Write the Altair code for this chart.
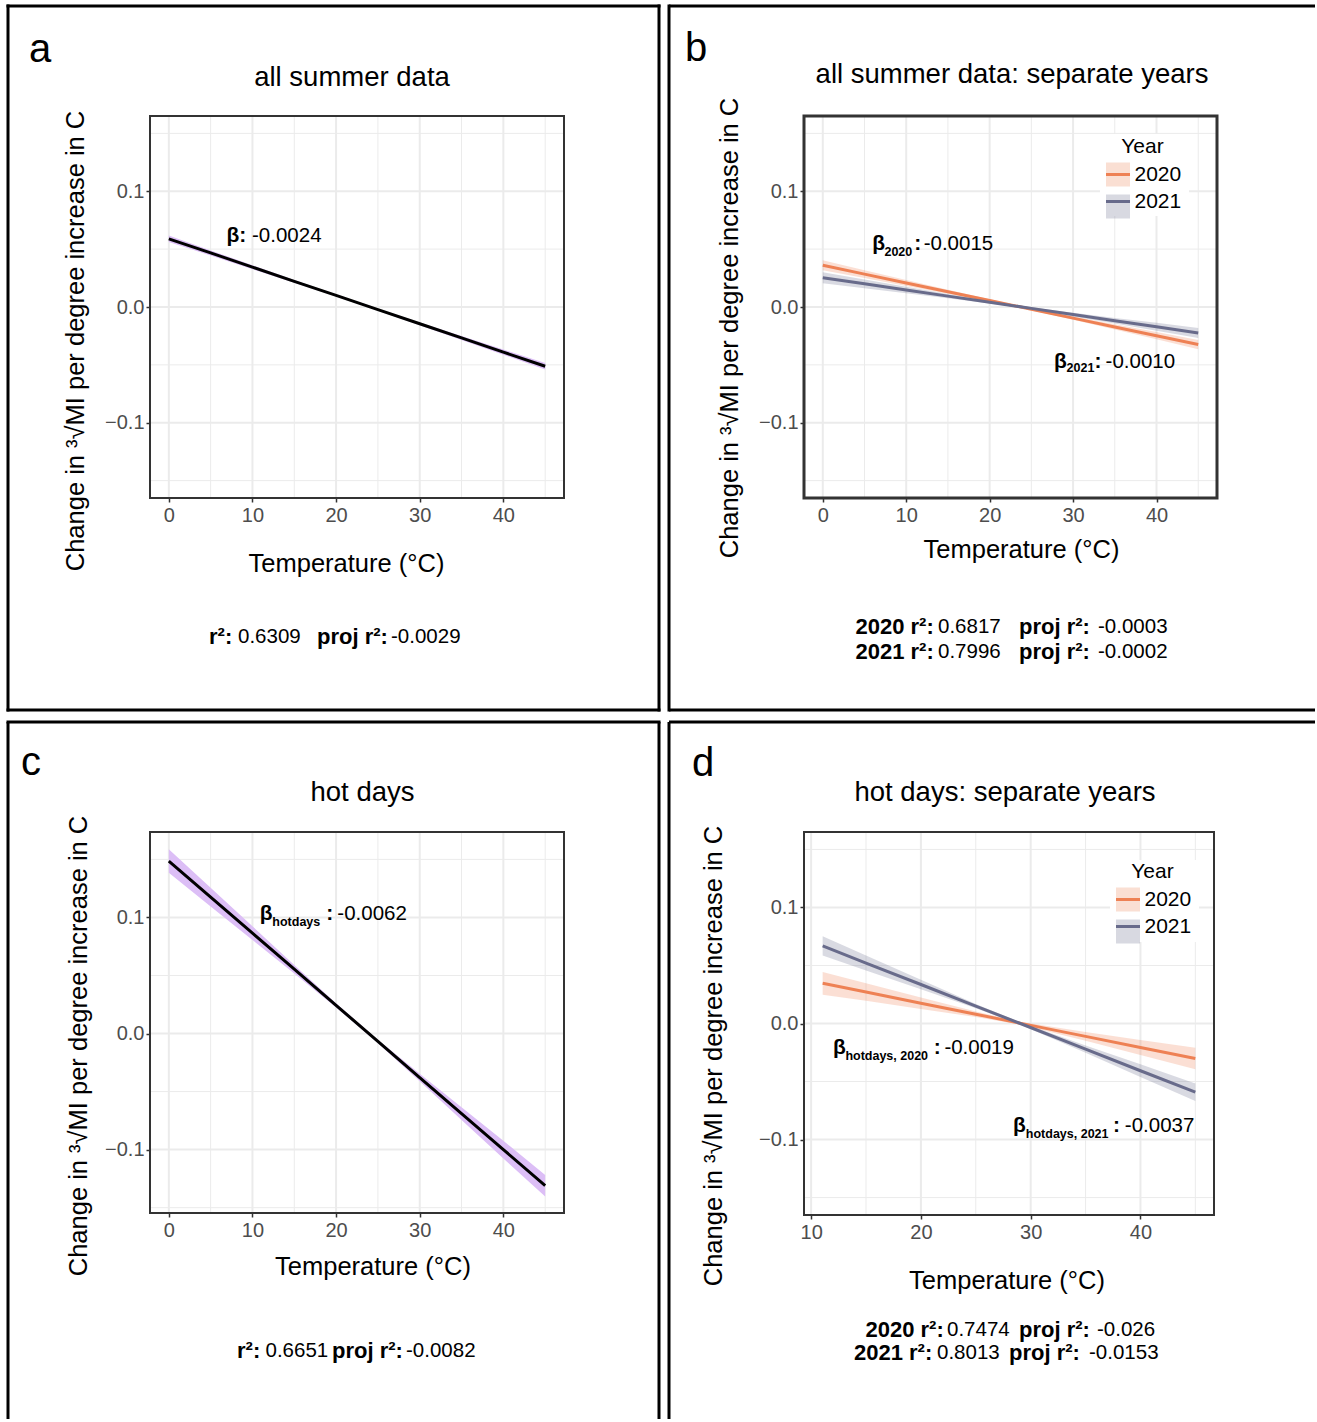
import altair as alt
import pandas as pd

FONT = "Liberation Sans"
ORANGE = "#EE8154"
SLATE = "#686B8B"
PURPLE_FILL = "#DCBEF6"
GRID = "#EBEBEB"

# ---------------- data ----------------
temp_full = [0, 5, 10, 15, 20, 25, 30, 35, 40, 45]

a_fit = [0.0589, 0.0467, 0.0344, 0.0222, 0.0100, -0.0023, -0.0145, -0.0267, -0.0390, -0.0512]
a_lo = [0.0561, 0.0445, 0.0327, 0.0210, 0.0092, -0.0031, -0.0157, -0.0284, -0.0412, -0.0540]
a_hi = [0.0617, 0.0489, 0.0361, 0.0234, 0.0108, -0.0015, -0.0133, -0.0250, -0.0368, -0.0484]

b20_fit = [0.0360, 0.0284, 0.0208, 0.0132, 0.0056, -0.0020, -0.0096, -0.0172, -0.0248, -0.0324]
b20_lo = [0.0317, 0.0250, 0.0182, 0.0115, 0.0046, -0.0028, -0.0110, -0.0194, -0.0279, -0.0364]
b20_hi = [0.0403, 0.0318, 0.0234, 0.0149, 0.0066, -0.0012, -0.0082, -0.0150, -0.0217, -0.0284]
b21_fit = [0.0253, 0.0200, 0.0147, 0.0094, 0.0041, -0.0012, -0.0065, -0.0118, -0.0171, -0.0224]
b21_lo = [0.0206, 0.0162, 0.0119, 0.0075, 0.0030, -0.0021, -0.0081, -0.0142, -0.0205, -0.0267]
b21_hi = [0.0300, 0.0238, 0.0175, 0.0113, 0.0052, -0.0003, -0.0049, -0.0094, -0.0137, -0.0181]

c_fit = [0.1486, 0.1175, 0.0865, 0.0554, 0.0243, -0.0068, -0.0379, -0.0690, -0.1000, -0.1311]
c_lo = [0.1384, 0.1095, 0.0806, 0.0517, 0.0225, -0.0083, -0.0412, -0.0744, -0.1076, -0.1404]
c_hi = [0.1588, 0.1255, 0.0924, 0.0591, 0.0261, -0.0053, -0.0346, -0.0636, -0.0924, -0.1218]

temp_hot = [11.05, 15, 20, 25, 29, 35, 40, 45]
d20_fit = [0.0346, 0.0271, 0.0175, 0.0080, 0.0003, -0.0111, -0.0207, -0.0302]
d20_lo = [0.0248, 0.0195, 0.0126, 0.0057, -0.0009, -0.0149, -0.0272, -0.0395]
d20_hi = [0.0444, 0.0347, 0.0224, 0.0103, 0.0015, -0.0073, -0.0142, -0.0209]
d21_fit = [0.0668, 0.0521, 0.0336, 0.0150, 0.0002, -0.0221, -0.0407, -0.0592]
d21_lo = [0.0585, 0.0457, 0.0295, 0.0131, -0.0008, -0.0253, -0.0462, -0.0668]
d21_hi = [0.0751, 0.0585, 0.0377, 0.0169, 0.0012, -0.0189, -0.0352, -0.0516]

years = ["2020", "2021"]

x_ticks_full = [0, 10, 20, 30, 40]
x_minor_full = [5, 15, 25, 35, 45]
x_ticks_hot = [10, 20, 30, 40]
x_minor_hot = [15, 25, 35, 45]
y_ticks = [-0.1, 0.0, 0.1]
y_minor = [-0.15, -0.05, 0.05, 0.15]

x_dom_full = [-2.25, 47.25]
x_dom_hot = [9.35, 46.7]
y_dom_fixed = [-0.165, 0.165]
y_dom_c = [-0.1546, 0.1736]

titles = ["all summer data", "all summer data: separate years", "hot days", "hot days: separate years"]
letters = ["a", "b", "c", "d"]
x_title = "Temperature (°C)"
y_title = "Change in ³√MI per degree increase in C"

a_beta = ("-0.0024",)
b_beta = ("-0.0015", "-0.0010")
c_beta = ("-0.0062",)
d_beta = ("-0.0019", "-0.0037")

a_r2 = ("0.6309", "-0.0029")
b_r2 = [("2020", "0.6817", "-0.0003"), ("2021", "0.7996", "-0.0002")]
c_r2 = ("0.6651", "-0.0082")
d_r2 = [("2020", "0.7474", "-0.026"), ("2021", "0.8013", "-0.0153")]

ONE = pd.DataFrame({"k": [0]})

TITLE_SIZE = 27.5
AXT_SIZE = 25.5
NOTE_SIZE = 20.5
NOTE_BOLD = 22
BETA_BOLD = 21


# ---------------- helpers ----------------
def text_px(origin, s, cx, cy, size, weight="normal", align="left", baseline="middle", angle=None, color="black"):
    kw = dict(text=s, font=FONT, fontSize=size, fontWeight=weight, align=align,
              baseline=baseline, color=color)
    if angle is not None:
        kw["angle"] = angle
    return alt.Chart(ONE).mark_text(**kw).encode(
        x=alt.value(cx - origin[0]), y=alt.value(cy - origin[1]))


def hline(origin, x1, x2, y, w=3, cap="butt"):
    return alt.Chart(ONE).mark_rule(color="black", strokeWidth=w, strokeCap=cap).encode(
        x=alt.value(x1 - origin[0]), x2=alt.value(x2 - origin[0]), y=alt.value(y - origin[1]))


def vline(origin, x, y1, y2, w=3, cap="butt"):
    return alt.Chart(ONE).mark_rule(color="black", strokeWidth=w, strokeCap=cap).encode(
        x=alt.value(x - origin[0]), y=alt.value(y1 - origin[1]), y2=alt.value(y2 - origin[1]))


def white_box(origin, x1, y1, x2, y2):
    return alt.Chart(ONE).mark_rect(color="white").encode(
        x=alt.value(x1 - origin[0]), x2=alt.value(x2 - origin[0]),
        y=alt.value(y1 - origin[1]), y2=alt.value(y2 - origin[1]))


def make_axes(xticks):
    xa = alt.Axis(values=xticks, format="d", grid=False, domain=False, tickSize=4, tickWidth=1.5,
                  tickColor="#333333", labelColor="#4D4D4D", labelFont=FONT, labelFontSize=20,
                  labelPadding=3, title=None)
    ya = alt.Axis(values=y_ticks, format=".1f", grid=False, domain=False, tickSize=4, tickWidth=1.5,
                  tickColor="#333333", labelColor="#4D4D4D", labelFont=FONT, labelFontSize=20,
                  labelPadding=2, title=None)
    return xa, ya


def grid_layers(xs, ys, xa, ya, xmajor, xminor):
    out = []
    for vals, w in ((xminor, 1), (xmajor, 2)):
        out.append(alt.Chart(pd.DataFrame({"v": vals})).mark_rule(color=GRID, strokeWidth=w).encode(
            x=alt.X("v:Q", scale=xs, axis=xa)))
    for vals, w in ((y_minor, 1), (y_ticks, 2)):
        out.append(alt.Chart(pd.DataFrame({"v": vals})).mark_rule(color=GRID, strokeWidth=w).encode(
            y=alt.Y("v:Q", scale=ys, axis=ya)))
    return out


def beta_label(xs, ys, xa, ya, xv, yv, sub, value, sub_dx, sub_dy, colon_dx, val_dx):
    df = pd.DataFrame({"t": [xv], "v": [yv]})
    enc = dict(x=alt.X("t:Q", scale=xs, axis=xa), y=alt.Y("v:Q", scale=ys, axis=ya))
    base = dict(font=FONT, align="left", baseline="middle", color="black")
    return [
        alt.Chart(df).mark_text(text="β", fontSize=BETA_BOLD, fontWeight="bold", **base).encode(**enc),
        alt.Chart(df).mark_text(text=sub, fontSize=12.5, fontWeight="bold", dx=sub_dx, dy=sub_dy, **base).encode(**enc),
        alt.Chart(df).mark_text(text=":", fontSize=BETA_BOLD, fontWeight="bold", dx=colon_dx, **base).encode(**enc),
        alt.Chart(df).mark_text(text=value, fontSize=NOTE_SIZE, fontWeight="normal", dx=val_dx, **base).encode(**enc),
    ]


def frame(w, h, sw=2, color="#333333"):
    return alt.Chart(ONE).mark_rect(fillOpacity=0, stroke=color, strokeWidth=sw).encode(
        x=alt.value(0), x2=alt.value(w), y=alt.value(0), y2=alt.value(h))


def legends(lx, ly):
    # the stroke legend carries the title and the labels; the fill legend only
    # draws the translucent key squares underneath the same rows
    shared = dict(orient="none", legendX=lx, direction="vertical", symbolSize=576,
                  symbolStrokeWidth=3, padding=0, labelFont=FONT,
                  labelFontSize=21, labelOffset=3)
    stroke_leg = alt.Legend(legendY=ly, title="Year", titleFont=FONT, titleFontSize=21,
                            titleFontWeight="normal", titleColor="black", titleAnchor="middle",
                            titlePadding=4, labelColor="black", symbolType="stroke", rowPadding=3,
                            symbolOpacity=1, zindex=2, **shared)
    fill_leg = alt.Legend(legendY=ly + 25, title=None, labelExpr="''", symbolType="square",
                          rowPadding=-7, symbolOpacity=0.25, symbolStrokeColor="transparent",
                          zindex=1, **shared)
    return fill_leg, stroke_leg


def r2_segments(o, py, xs_, bold1, val1, val2):
    return [
        text_px(o, bold1, xs_[0], py, NOTE_BOLD, weight="bold"),
        text_px(o, val1, xs_[1], py, NOTE_SIZE),
        text_px(o, "proj r²:", xs_[2], py, NOTE_BOLD, weight="bold"),
        text_px(o, val2, xs_[3], py, NOTE_SIZE),
    ]


# ---------------- panel geometry (plot-area origins on the canvas) ----------------
A0, A_SIZE = (150, 116), (414, 382)
B0, B_SIZE = (804, 116), (413, 382)
C0, C_SIZE = (150, 832), (414, 381)
D0, D_SIZE = (804, 832), (410, 383)


# ---------------- panel a ----------------
def panel_a():
    o = A0
    xs = alt.Scale(domain=x_dom_full, nice=False, zero=False)
    ys = alt.Scale(domain=y_dom_fixed, nice=False, zero=False)
    xa, ya = make_axes(x_ticks_full)
    df = pd.DataFrame({"temp": temp_full, "fit": a_fit, "lo": a_lo, "hi": a_hi})
    layers = [
        # invisible canvas-sized rectangle so the page starts at (0, 0)
        alt.Chart(ONE).mark_rect(opacity=0).encode(
            x=alt.value(-o[0]), x2=alt.value(1317 - o[0]), y=alt.value(-o[1]), y2=alt.value(1422 - o[1])),
    ]
    layers += grid_layers(xs, ys, xa, ya, x_ticks_full, x_minor_full)
    layers += [
        alt.Chart(df).mark_area(color=PURPLE_FILL).encode(
            x=alt.X("temp:Q", scale=xs, axis=xa), y=alt.Y("lo:Q", scale=ys, axis=ya), y2="hi:Q"),
        alt.Chart(df).mark_line(color="black", strokeWidth=3).encode(
            x=alt.X("temp:Q", scale=xs, axis=xa), y=alt.Y("fit:Q", scale=ys, axis=ya)),
    ]
    df_b = pd.DataFrame({"t": [6.9], "v": [0.061]})
    enc = dict(x=alt.X("t:Q", scale=xs, axis=xa), y=alt.Y("v:Q", scale=ys, axis=ya))
    layers += [
        alt.Chart(df_b).mark_text(text="β:", font=FONT, fontSize=BETA_BOLD, fontWeight="bold", align="left",
                                  baseline="middle", color="black").encode(**enc),
        alt.Chart(df_b).mark_text(text=a_beta[0], font=FONT, fontSize=NOTE_SIZE, align="left", dx=25.5,
                                  baseline="middle", color="black").encode(**enc),
        frame(*A_SIZE),
        hline(o, 8, 659, 6, cap="square"), hline(o, 8, 659, 710, cap="square"),
        vline(o, 8, 6, 710, cap="square"), vline(o, 659, 6, 710, cap="square"),
        text_px(o, letters[0], 29, 62, 40, baseline="alphabetic"),
        text_px(o, titles[0], 352, 86, TITLE_SIZE, align="center", baseline="alphabetic"),
        text_px(o, y_title, 76, 341, AXT_SIZE, align="center", angle=270),
        text_px(o, x_title, 346.5, 572, AXT_SIZE, align="center", baseline="alphabetic"),
    ]
    layers += r2_segments(o, 637, (209, 238, 317, 391), "r²:", *a_r2)
    return alt.layer(*layers).properties(width=A_SIZE[0], height=A_SIZE[1])


# ---------------- panel c ----------------
def panel_c():
    o = C0
    xs = alt.Scale(domain=x_dom_full, nice=False, zero=False)
    ys = alt.Scale(domain=y_dom_c, nice=False, zero=False)
    xa, ya = make_axes(x_ticks_full)
    df = pd.DataFrame({"temp": temp_full, "fit": c_fit, "lo": c_lo, "hi": c_hi})
    layers = grid_layers(xs, ys, xa, ya, x_ticks_full, x_minor_full)
    layers += [
        alt.Chart(df).mark_area(color=PURPLE_FILL).encode(
            x=alt.X("temp:Q", scale=xs, axis=xa), y=alt.Y("lo:Q", scale=ys, axis=ya), y2="hi:Q"),
        alt.Chart(df).mark_line(color="black", strokeWidth=3).encode(
            x=alt.X("temp:Q", scale=xs, axis=xa), y=alt.Y("fit:Q", scale=ys, axis=ya)),
    ]
    layers += beta_label(xs, ys, xa, ya, 10.87, 0.1033, "hotdays", c_beta[0], 12.6, 8.3, 66.6, 77.6)
    layers += [
        frame(*C_SIZE),
        hline(o, 8, 659, 722, cap="square"),
        vline(o, 8, 722, 1419), vline(o, 659, 722, 1419),
        text_px(o, letters[2], 21, 775, 40, baseline="alphabetic"),
        text_px(o, titles[2], 362.5, 801, TITLE_SIZE, align="center", baseline="alphabetic"),
        text_px(o, y_title, 79, 1046, AXT_SIZE, align="center", angle=270),
        text_px(o, x_title, 373, 1275, AXT_SIZE, align="center", baseline="alphabetic"),
    ]
    layers += r2_segments(o, 1351, (237, 265.5, 332, 406), "r²:", *c_r2)
    return alt.layer(*layers).properties(width=C_SIZE[0], height=C_SIZE[1])


# ---------------- panels b and d (two years) ----------------
def year_frame(temps, f20, l20, h20, f21, l21, h21):
    rows = []
    for yr, f, lo, hi in (("2020", f20, l20, h20), ("2021", f21, l21, h21)):
        for t, a, b, c in zip(temps, f, lo, hi):
            rows.append({"temp": t, "Year": yr, "fit": a, "lo": b, "hi": c})
    return pd.DataFrame(rows)


def panel_years(o, size, xdom, xticks, xminor, df, leg_xy, box, betas, r2_rows, idx,
                ytitle_xy, xtitle_xy, title_xy, letter_xy, border):
    xs = alt.Scale(domain=xdom, nice=False, zero=False)
    ys = alt.Scale(domain=y_dom_fixed, nice=False, zero=False)
    xa, ya = make_axes(xticks)
    fill_leg, stroke_leg = legends(*leg_xy)
    layers = grid_layers(xs, ys, xa, ya, xticks, xminor)
    layers.append(white_box(o, *box))  # legend background
    layers += [
        alt.Chart(df).mark_area(opacity=0.25).encode(
            x=alt.X("temp:Q", scale=xs, axis=xa), y=alt.Y("lo:Q", scale=ys, axis=ya), y2="hi:Q",
            fill=alt.Fill("Year:N", scale=alt.Scale(domain=years, range=[ORANGE, SLATE]), legend=fill_leg)),
        alt.Chart(df).mark_line(strokeWidth=3).encode(
            x=alt.X("temp:Q", scale=xs, axis=xa), y=alt.Y("fit:Q", scale=ys, axis=ya),
            stroke=alt.Stroke("Year:N", scale=alt.Scale(range=[ORANGE, SLATE]), legend=stroke_leg)),
    ]
    for b in betas:
        layers += beta_label(xs, ys, xa, ya, *b)
    layers.append(frame(*size, sw=border))
    layers += [
        text_px(o, letters[idx], letter_xy[0], letter_xy[1], 40, baseline="alphabetic"),
        text_px(o, titles[idx], title_xy[0], title_xy[1], TITLE_SIZE, align="center", baseline="alphabetic"),
        text_px(o, y_title, ytitle_xy[0], ytitle_xy[1], AXT_SIZE, align="center", angle=270),
        text_px(o, x_title, xtitle_xy[0], xtitle_xy[1], AXT_SIZE, align="center", baseline="alphabetic"),
    ]
    for (yr, r2, proj), (py, xs_) in r2_rows:
        layers += r2_segments(o, py, xs_, yr + " r²:", r2, proj)
    return layers


def panel_b():
    o = B0
    df = year_frame(temp_full, b20_fit, b20_lo, b20_hi, b21_fit, b21_lo, b21_hi)
    betas = [
        (5.92, 0.054, "2020", b_beta[0], 12.3, 7.7, 42.0, 51.5),
        (27.7, -0.0474, "2021", b_beta[1], 12.7, 6.6, 40.7, 51.7),
    ]
    r2_rows = [
        (b_r2[0], (627, (855.5, 938, 1019, 1098))),
        (b_r2[1], (652, (855.5, 938, 1019, 1098))),
    ]
    layers = panel_years(o, B_SIZE, x_dom_full, x_ticks_full, x_minor_full, df, (300.5, 20),
                         (1100, 134, 1189, 216), betas, r2_rows, 1,
                         (729.5, 328), (1021.5, 558), (1012, 83), (685, 61), 3)
    layers += [
        hline(o, 669, 1315, 6), hline(o, 669, 1315, 710),
        vline(o, 669, 6, 710, cap="square"),
    ]
    return alt.layer(*layers).properties(width=B_SIZE[0], height=B_SIZE[1])


def panel_d():
    o = D0
    df = year_frame(temp_hot, d20_fit, d20_lo, d20_hi, d21_fit, d21_lo, d21_hi)
    betas = [
        (12.0, -0.021, "hotdays, 2020", d_beta[0], 12.3, 8.0, 100.6, 111.3),
        (28.4, -0.0879, "hotdays, 2021", d_beta[1], 12.7, 8.3, 100.0, 111.7),
    ]
    r2_rows = [
        (d_r2[0], (1330, (865.5, 947, 1019, 1097))),
        (d_r2[1], (1353, (854, 937, 1009, 1089))),
    ]
    layers = panel_years(o, D_SIZE, x_dom_hot, x_ticks_hot, x_minor_hot, df, (310.5, 29),
                         (1110, 860, 1199, 942), betas, r2_rows, 3,
                         (713.5, 1056), (1007, 1289), (1005, 801), (692, 776), 2)
    layers += [
        hline(o, 669, 1315, 722),
        vline(o, 669, 722, 1419),
    ]
    return alt.layer(*layers).properties(width=D_SIZE[0], height=D_SIZE[1])


chart = alt.concat(
    panel_a(), panel_b(), panel_c(), panel_d(),
    columns=2, spacing={"row": 334, "column": 240}, bounds="flush",
).resolve_scale(
    x="independent", y="independent", fill="independent", stroke="independent"
).resolve_legend(
    fill="independent", stroke="independent"
).properties(
    padding=0, background="white"
).configure_view(strokeWidth=0)

chart.save("out.html", embed_options={"renderer": "svg", "actions": False})
